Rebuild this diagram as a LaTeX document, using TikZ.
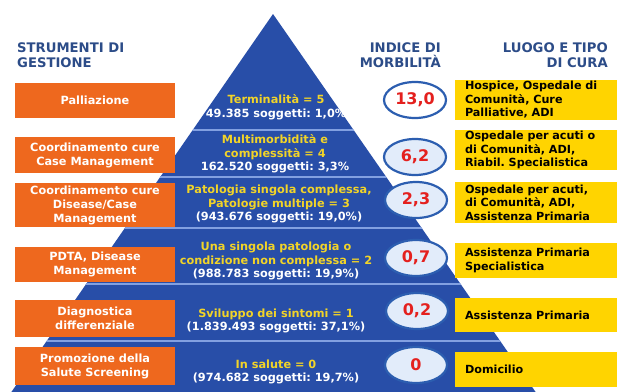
\documentclass[tikz,border=0pt]{standalone}
\usepackage{fontspec}
\setmainfont{DejaVu Sans}
\usetikzlibrary{positioning, shapes.geometric}
\definecolor{piramide}{RGB}{40,78,168}
\definecolor{striscia}{RGB}{130,160,225}
\definecolor{arancio}{RGB}{238,104,30}
\definecolor{giallo}{RGB}{255,212,0}
\definecolor{titolo}{RGB}{44,76,136}
\definecolor{oro}{RGB}{242,212,40}
\definecolor{rosso}{RGB}{228,32,30}
\definecolor{bordo}{RGB}{44,94,176}
\definecolor{alone}{RGB}{226,236,250}
\tikzset{
  intestazione/.style={text=titolo, font=\bfseries\fontsize{13.2}{15}\selectfont, inner sep=0},
  strumento/.style={fill=arancio, minimum width=160pt, text=white, align=center,
    font=\bfseries\fontsize{11.3}{14}\selectfont, inner sep=0},
  luogo/.style={fill=giallo, minimum width=170pt, text width=150pt, inner xsep=10pt, inner ysep=0,
    align=left, font=\bfseries\fontsize{11.2}{13.5}\selectfont},
  indice/.style={ellipse, draw=bordo, line width=2.2pt, fill=alone, minimum width=62pt,
    minimum height=36pt, text=rosso, font=\bfseries\fontsize{16}{16}\selectfont, inner sep=0},
  livello/.style={align=center, font=\bfseries\fontsize{11.3}{13.5}\selectfont, inner sep=0}
}
\begin{document}
\frenchspacing
\begin{tikzpicture}[x=1pt, y=-1pt]
\useasboundingbox (0,0) rectangle (617,391);
\coordinate (apice) at (273,14);
\coordinate (BL) at (10,394);
\coordinate (BR) at (537,394);
\fill[piramide] (apice) -- (BL) -- (BR) -- cycle;
\begin{scope}
\clip (apice) -- (BL) -- (BR) -- cycle;
\foreach \y in {130,177,228,284,341}
  \draw[striscia, line width=1.6pt] (0,\y) -- (617,\y);
\end{scope}

\node[intestazione, anchor=west, align=left] (strumenti) at (17,55) {STRUMENTI DI\\GESTIONE};
\node[intestazione, anchor=east, align=right] (morbilita) at (441,55) {INDICE DI\\MORBILITÀ};
\node[intestazione, anchor=east, align=right] (cura) at (608,55) {LUOGO E TIPO\\DI CURA};

\node[strumento, minimum height=35pt] (s5) at (95,100.5) {Palliazione};
\node[strumento, minimum height=36pt] (s4) at (95,155) {Coordinamento cure\\Case Management};
\node[strumento, minimum height=44pt] (s3) at (95,205) {Coordinamento cure\\Disease/Case\\Management};
\node[strumento, minimum height=35pt] (s2) at (95,264.5) {PDTA, Disease\\Management};
\node[strumento, minimum height=37pt] (s1) at (95,318.5) {Diagnostica\\differenziale};
\node[strumento, minimum height=38pt] (s0) at (95,366) {Promozione della\\Salute Screening};

\node[livello] (l5) at (276,107) {\textcolor{oro}{Terminalità = 5}\\\textcolor{white}{49.385 soggetti: 1,0\%}};
\node[livello] (l4) at (275,154) {\textcolor{oro}{Multimorbidità e}\\\textcolor{oro}{complessità = 4}\\\textcolor{white}{162.520 soggetti: 3,3\%}};
\node[livello] (l3) at (279,204) {\textcolor{oro}{Patologia singola complessa,}\\\textcolor{oro}{Patologie multiple = 3}\\\textcolor{white}{(943.676 soggetti: 19,0\%)}};
\node[livello] (l2) at (276,261) {\textcolor{oro}{Una singola patologia o}\\\textcolor{oro}{condizione non complessa = 2}\\\textcolor{white}{(988.783 soggetti: 19,9\%)}};
\node[livello] (l1) at (276,321) {\textcolor{oro}{Sviluppo dei sintomi = 1}\\\textcolor{white}{(1.839.493 soggetti: 37,1\%)}};
\node[livello] (l0) at (276,372) {\textcolor{oro}{In salute = 0}\\\textcolor{white}{(974.682 soggetti: 19,7\%)}};

\node[indice, fill=white] (i5) at (415,100) {13,0};
\node[indice] (i4) at (415,157) {6,2};
\node[indice] (i3) at (416,200) {2,3};
\node[indice] (i2) at (416,258) {0,7};
\node[indice] (i1) at (417,311) {0,2};
\node[indice] (i0) at (416,365) {0};

\node[luogo, minimum height=40pt] (c5) at (540,100) {Hospice, Ospedale di\\Comunità, Cure\\Palliative, ADI};
\node[luogo, minimum height=40pt] (c4) at (540,150) {Ospedale per acuti o\\di Comunità, ADI,\\Riabil. Specialistica};
\node[luogo, minimum height=41pt] (c3) at (540,202.5) {Ospedale per acuti,\\di Comunità, ADI,\\Assistenza Primaria};
\node[luogo, minimum height=35pt] (c2) at (540,260.5) {Assistenza Primaria\\Specialistica};
\node[luogo, minimum height=34pt] (c1) at (540,315) {Assistenza Primaria};
\node[luogo, minimum height=35pt] (c0) at (540,369.5) {Domicilio};
\end{tikzpicture}
\end{document}
